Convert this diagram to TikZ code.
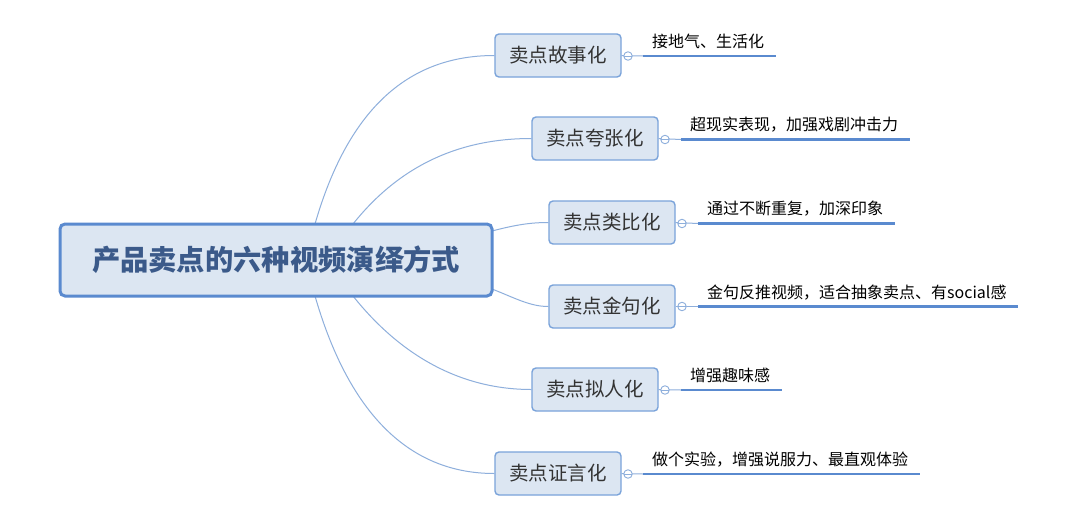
\documentclass[tikz,border=0pt]{standalone}
\usepackage{fontspec}
\usetikzlibrary{backgrounds}
\newfontfamily\cjk{Noto Sans CJK SC}
\definecolor{boxfill}{HTML}{DCE6F2}
\definecolor{mainborder}{HTML}{5A8ACF}
\definecolor{subborder}{HTML}{7AA3DA}
\definecolor{maintext}{HTML}{3B5A8A}
\definecolor{linkc}{HTML}{8EAFDC}
\definecolor{ulc}{HTML}{5A8ACF}
\definecolor{txt}{HTML}{333333}
\tikzset{
  mainbox/.style={draw=mainborder, line width=3pt, fill=boxfill, rounded corners=5pt,
    minimum width=432pt, minimum height=72pt, inner sep=0pt,
    font=\cjk\fontsize{28.3}{32}\selectfont\bfseries, text=maintext},
  subbox/.style={draw=subborder, line width=1.4pt, fill=boxfill, rounded corners=4pt,
    minimum width=126pt, minimum height=43pt, inner sep=0pt,
    font=\cjk\fontsize{19.5}{22}\selectfont, text=txt},
  link/.style={draw=linkc, line width=1pt},
  knob/.style={circle, draw=linkc, fill=white, line width=0.9pt, minimum size=8.5pt, inner sep=0pt,
    path picture={\draw[linkc, line width=0.9pt] (path picture bounding box.west) -- (path picture bounding box.east);}},
  uline/.style={draw=ulc, line width=2.2pt},
  lbl/.style={anchor=base west, font=\cjk\fontsize{16}{18}\selectfont, text=black, inner sep=0pt},
}
\begin{document}
\begin{tikzpicture}[x=1pt,y=-1pt]
\useasboundingbox (0,0) rectangle (1080,528);

\node[mainbox] (main) at (276,260) {产品卖点的六种视频演绎方式};

\node[subbox] (b1) at (558,55.5) {卖点故事化};
\node[subbox] (b2) at (595,138.5) {卖点夸张化};
\node[subbox] (b3) at (612,222.5) {卖点类比化};
\node[subbox] (b4) at (612,306.5) {卖点金句化};
\node[subbox] (b5) at (595,389.5) {卖点拟人化};
\node[subbox] (b6) at (558,473.5) {卖点证言化};

\node[knob] (k1) at (628,56) {};
\node[knob] (k2) at (665,139.5) {};
\node[knob] (k3) at (682,223.5) {};
\node[knob] (k4) at (682,306.5) {};
\node[knob] (k5) at (665,390) {};
\node[knob] (k6) at (628,474) {};

\coordinate (s1) at (315,224);
\coordinate (s2) at (353,224);
\coordinate (s3) at (492,231);
\coordinate (s4) at (492,289);
\coordinate (s5) at (353,296);
\coordinate (s6) at (315,296);

\coordinate (u1) at (643,56);
\coordinate (u2) at (681,139.5);
\coordinate (u3) at (698,223.5);
\coordinate (u4) at (698,306.5);
\coordinate (u5) at (681,390);
\coordinate (u6) at (643,474);

\coordinate (e1) at (776,56);
\coordinate (e2) at (910,139.5);
\coordinate (e3) at (895,223.5);
\coordinate (e4) at (1018,306.5);
\coordinate (e5) at (782,390);
\coordinate (e6) at (920,474);

\begin{scope}[on background layer]
\fill[white] (0,0) rectangle (1080,528);
\draw[link] (s1) .. controls (345,120) and (400,55.5) .. (b1.west);
\draw[link] (s2) .. controls (400,165) and (460,138.5) .. (b2.west);
\draw[link] (s3) .. controls (515,225) and (530,222.5) .. (b3.west);
\draw[link] (s4) .. controls (515,298) and (530,306.5) .. (b4.west);
\draw[link] (s5) .. controls (400,355) and (460,389.5) .. (b5.west);
\draw[link] (s6) .. controls (345,400) and (400,473.5) .. (b6.west);
\draw[link] (b1.east) -- (u1);
\draw[link] (b2.east) -- (u2);
\draw[link] (b3.east) -- (u3);
\draw[link] (b4.east) -- (u4);
\draw[link] (b5.east) -- (u5);
\draw[link] (b6.east) -- (u6);
\end{scope}

\draw[uline] (u1) -- (e1);
\draw[uline] (u2) -- (e2);
\draw[uline] (u3) -- (e3);
\draw[uline] (u4) -- (e4);
\draw[uline] (u5) -- (e5);
\draw[uline] (u6) -- (e6);

\node[lbl] (l1) at (652,47) {接地气、生活化};
\node[lbl] (l2) at (690,130) {超现实表现，加强戏剧冲击力};
\node[lbl] (l3) at (707,214) {通过不断重复，加深印象};
\node[lbl] (l4) at (707,298) {金句反推视频，适合抽象卖点、有social感};
\node[lbl] (l5) at (690,381) {增强趣味感};
\node[lbl] (l6) at (652,465) {做个实验，增强说服力、最直观体验};
\end{tikzpicture}
\end{document}
